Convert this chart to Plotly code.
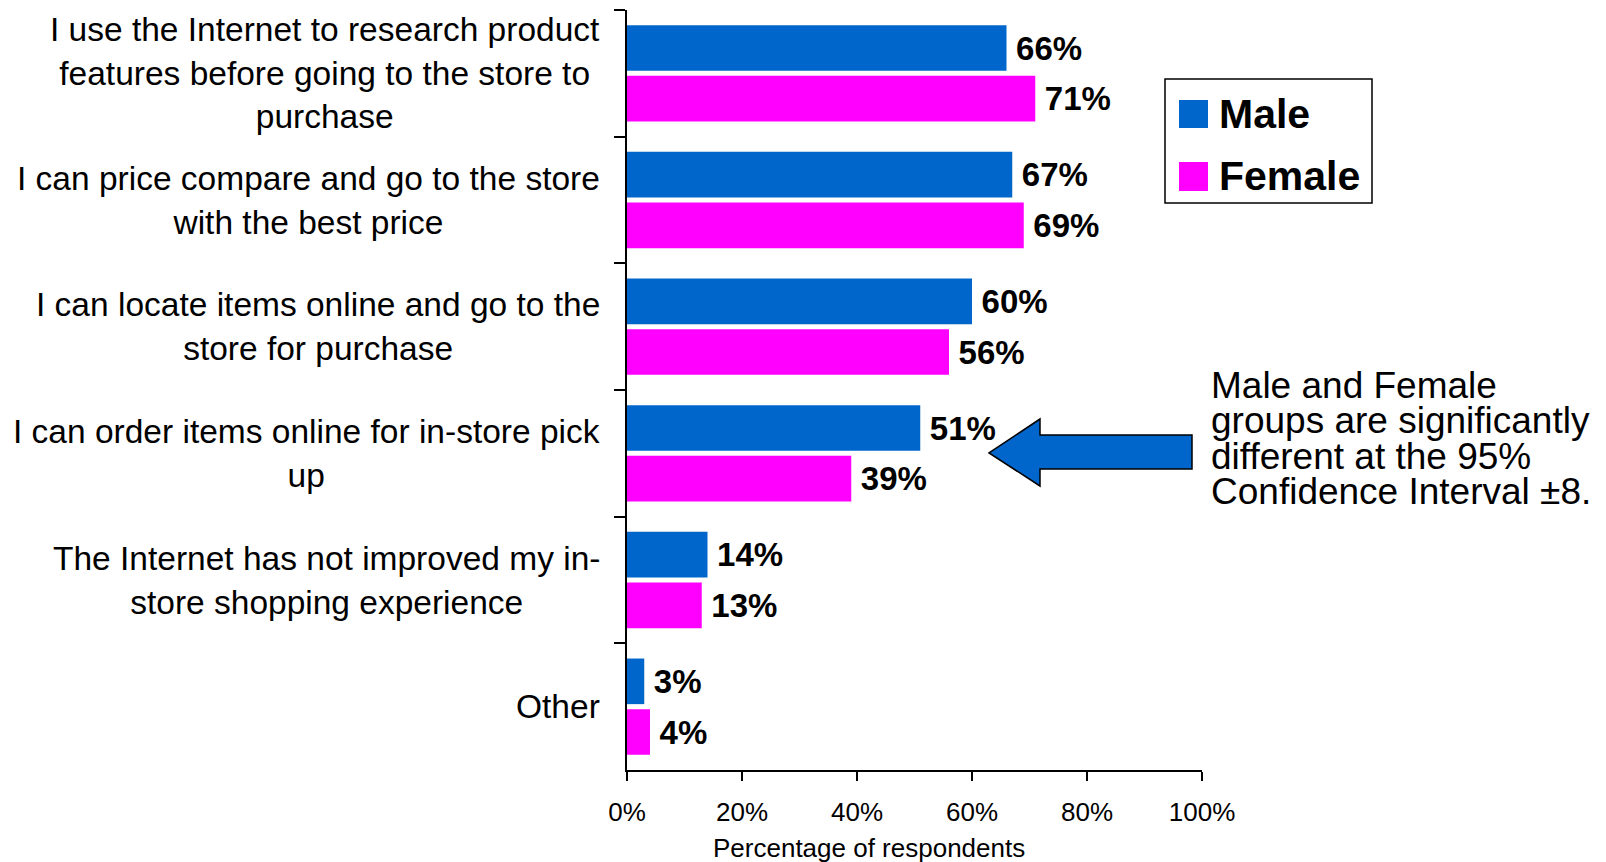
import plotly.graph_objects as go

# Survey data
categories = [
    "I use the Internet to research product<br>features before going to the store to<br>purchase",
    "I can price compare and go to the store<br>with the best price",
    "I can locate items online and go to the<br>store for purchase",
    "I can order items online for in-store pick<br>up",
    "The Internet has not improved my in-<br>store shopping experience",
    "Other",
]
series_names = ["Male", "Female"]
male = [66, 67, 60, 51, 14, 3]
female = [71, 69, 56, 39, 13, 4]
x_ticks = [0, 20, 40, 60, 80, 100]
x_title = "Percentage of respondents"
note_lines = [
    "Male and Female",
    "groups are significantly",
    "different at the 95%",
    "Confidence Interval \u00b18.",
]

BLUE = "#0066CC"
MAGENTA = "#FF00FF"
FONT = "Liberation Sans, Arial, sans-serif"

W, H = 1606, 862
L, R, T, B = 627, 1202, 10, 770  # plot area in pixels


def px(x):
    return (x - L) / (R - L)


def py(y):
    return (B - y) / (B - T)


fig = go.Figure()
for name, vals, col in [(series_names[0], male, BLUE), (series_names[1], female, MAGENTA)]:
    fig.add_trace(go.Bar(
        name=name,
        y=categories,
        x=vals,
        orientation="h",
        marker=dict(color=col, line=dict(width=0)),
        text=[f"\u2009{v}%" for v in vals],
        textposition="outside",
        textfont=dict(family=FONT, size=33, color="black", weight="bold"),
        constraintext="none",
        cliponaxis=False,
        showlegend=False,
    ))

annotations = []
# category labels, lines centred within each block
for c in categories:
    annotations.append(dict(
        x=0, xref="paper", y=c, yref="y", text=c, showarrow=False,
        xanchor="right", yanchor="middle", align="center", xshift=-25,
        font=dict(family=FONT, size=33.5, color="black"),
    ))

# axis title
annotations.append(dict(
    x=px(869), y=py(848), xref="paper", yref="paper", text=x_title,
    showarrow=False, xanchor="center", yanchor="middle",
    font=dict(family=FONT, size=26, color="black"),
))

# note beside the arrow: tight line spacing comes from a small base size
# with each line enlarged through an inline span
note_text = "<br>".join(
    f'<span style="font-size:37px">{line}</span>' for line in note_lines
)
annotations.append(dict(
    x=px(1209), y=py(439), xref="paper", yref="paper", text=note_text,
    showarrow=False, xanchor="left", yanchor="middle", align="left",
    font=dict(family=FONT, size=27.3, color="black"),
))

# legend entries
legend_y = [114, 176]
for name, yy in zip(series_names, legend_y):
    annotations.append(dict(
        x=px(1217), y=py(yy), xref="paper", yref="paper", text=name,
        showarrow=False, xanchor="left", yanchor="middle",
        font=dict(family=FONT, size=41, color="black", weight="bold"),
    ))

shapes = [
    # legend frame
    dict(type="rect", xref="paper", yref="paper",
         x0=px(1165), x1=px(1372), y0=py(79), y1=py(203),
         line=dict(color="black", width=1.5), fillcolor="white", layer="above"),
    dict(type="rect", xref="paper", yref="paper",
         x0=px(1179), x1=px(1208), y0=py(100), y1=py(128),
         line=dict(width=0), fillcolor=BLUE, layer="above"),
    dict(type="rect", xref="paper", yref="paper",
         x0=px(1179), x1=px(1208), y0=py(162), y1=py(191),
         line=dict(width=0), fillcolor=MAGENTA, layer="above"),
]

# block arrow pointing at the order-online group
arrow_pts = [(989, 453), (1040, 419), (1040, 435), (1192, 435),
             (1192, 469), (1040, 469), (1040, 486)]
path = "M " + " L ".join(f"{px(x):.5f},{py(y):.5f}" for x, y in arrow_pts) + " Z"
shapes.append(dict(type="path", xref="paper", yref="paper", path=path,
                   fillcolor=BLUE, line=dict(color="black", width=1.5), layer="above"))

fig.update_layout(
    width=W, height=H,
    margin=dict(l=L, r=W - R, t=T, b=H - B, pad=0),
    paper_bgcolor="white", plot_bgcolor="white",
    barmode="group", bargap=0.2, bargroupgap=0.1,
    font=dict(family=FONT, color="black"),
    showlegend=False,
    annotations=annotations,
    shapes=shapes,
    xaxis=dict(
        range=[0, 100], tickmode="array", tickvals=x_ticks,
        ticktext=[f"{v}%" for v in x_ticks],
        showgrid=False, zeroline=False,
        showline=True, linecolor="black", linewidth=2,
        ticks="outside", ticklen=9, tickwidth=2, tickcolor="black",
        ticklabelstandoff=9,
        tickfont=dict(family=FONT, size=26, color="black"),
    ),
    yaxis=dict(
        range=[5.5, -0.5], type="category",
        showgrid=False, zeroline=False,
        showline=True, linecolor="black", linewidth=2,
        ticks="outside", ticklen=11, tickwidth=2, tickcolor="black",
        tickson="boundaries", showticklabels=False,
    ),
)

fig.write_html("out.html")
